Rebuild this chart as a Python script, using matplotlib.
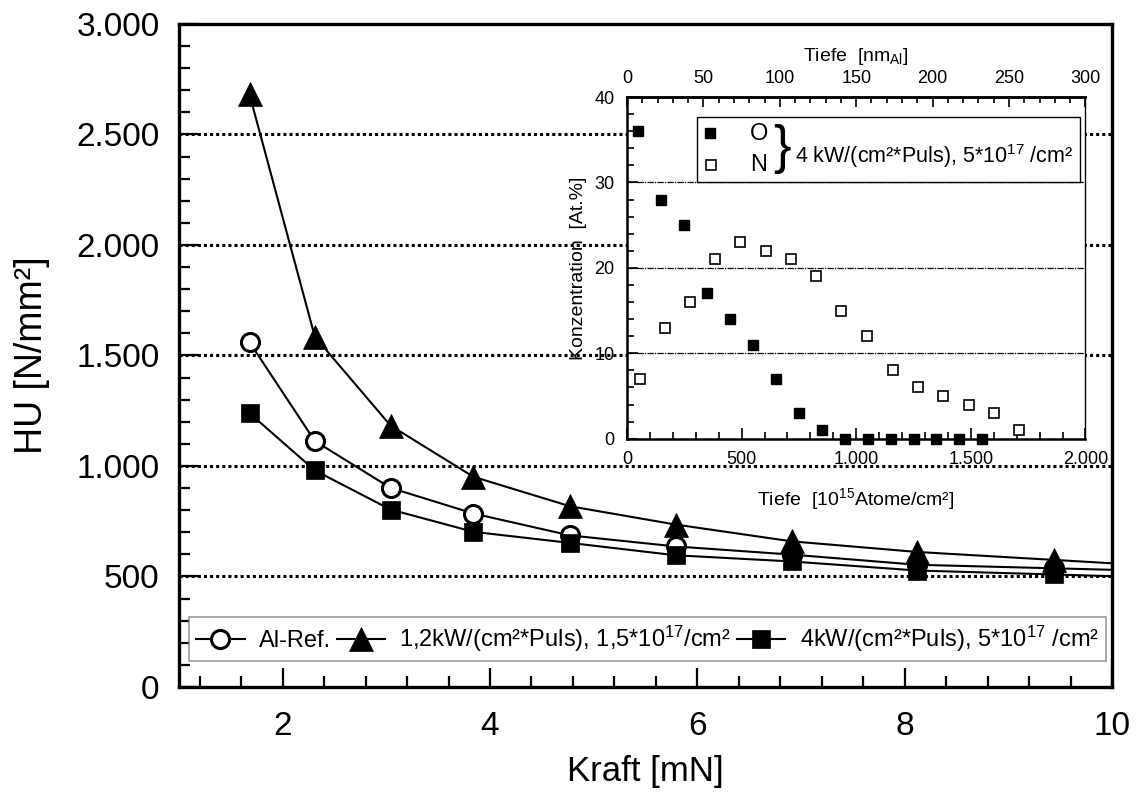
import numpy as np
import matplotlib

matplotlib.use("Agg")
import matplotlib.pyplot as plt
from matplotlib.patches import Rectangle
from matplotlib.ticker import MultipleLocator, FixedLocator, FuncFormatter

plt.rcParams["font.family"] = ["Liberation Sans", "DejaVu Sans"]
plt.rcParams["mathtext.fontset"] = "custom"
plt.rcParams["mathtext.rm"] = "Liberation Sans"
plt.rcParams["mathtext.it"] = "Liberation Sans:italic"

# ---- main chart: universal hardness vs. load ---------------------------------
kraft = [1.68, 2.31, 3.04, 3.84, 4.77, 5.79, 6.91, 8.12, 9.44]
hu_ref = [1560, 1113, 901, 785, 686, 636, 599, 553, 537]
hu_12kw = [2681, 1585, 1183, 951, 818, 735, 659, 611, 575]
hu_4kw = [1239, 980, 803, 702, 652, 596, 568, 527, 509]

labels_main = ["Al-Ref.",
               "1,2kW/(cm²*Puls), 1,5*10$^{17}$/cm²",
               "4kW/(cm²*Puls), 5*10$^{17}$ /cm²"]

# ---- inset: depth profile ----------------------------------------------------
tiefe_o = [50, 150, 250, 350, 450, 550, 650, 750, 850, 950, 1050, 1150,
           1250, 1350, 1450, 1550]
konz_o = [36, 28, 25, 17, 14, 11, 7, 3, 1, 0, 0, 0, 0, 0, 0, 0]
tiefe_n = [55, 165, 275, 385, 495, 605, 715, 825, 935, 1045, 1160, 1270,
           1380, 1490, 1600, 1710]
konz_n = [7, 13, 16, 21, 23, 22, 21, 19, 15, 12, 8, 6, 5, 4, 3, 1]


def dot_fmt(v, _pos):
    return f"{int(round(v)):,}".replace(",", ".")


def line_to_edge(x, y, x_end=10.0):
    # connect the points and carry the last segment on to the axis edge
    slope = (y[-1] - y[-2]) / (x[-1] - x[-2])
    return list(x) + [x_end], list(y) + [y[-1] + slope * (x_end - x[-1])]


fig = plt.figure(figsize=(11.36, 8.05), dpi=100)
ax = fig.add_axes([0.1576, 0.1466, 0.8213, 0.8236])

series = [
    (hu_ref, dict(marker="o", mfc="white", mec="black", ms=13, mew=2.2)),
    (hu_12kw, dict(marker="^", mfc="black", mec="black", ms=17, mew=0.5)),
    (hu_4kw, dict(marker="s", mfc="black", mec="black", ms=13, mew=0.5)),
]
handles = []
for yv, st in series:
    xs, ys = line_to_edge(kraft, yv)
    ax.plot(xs, ys, color="black", lw=1.5, zorder=3)
    ax.plot(kraft, yv, ls="none", zorder=4, **st)
    h, = ax.plot([], [], color="black", lw=1.5, **st)
    handles.append(h)

ax.set_xlim(1, 10)
ax.set_ylim(0, 3000)
ax.xaxis.set_major_locator(MultipleLocator(2))
ax.xaxis.set_minor_locator(MultipleLocator(0.4))
ax.yaxis.set_major_locator(MultipleLocator(500))
ax.yaxis.set_minor_locator(MultipleLocator(100))
ax.yaxis.set_major_formatter(FuncFormatter(dot_fmt))
ax.tick_params(which="both", direction="in", top=False, right=False,
               width=1.6, labelsize=24)
ax.tick_params(which="major", length=14, pad=14)
ax.tick_params(which="minor", length=8)
ax.tick_params(axis="x", which="major", pad=17)
for s in ax.spines.values():
    s.set_linewidth(2.4)
ax.yaxis.grid(True, which="major", color="black", lw=2.2,
              linestyle=(0, (1, 1)))
ax.set_axisbelow(True)
ax.set_xlabel("Kraft [mN]", fontsize=25, labelpad=10)
ax.set_ylabel("HU [N/mm²]", fontsize=27, labelpad=19)

leg = ax.legend(handles, labels_main, ncol=3, loc="lower left",
                bbox_to_anchor=(0.0107, 0.039), fontsize=17, frameon=True,
                fancybox=False, borderaxespad=0, handlelength=2.05,
                handletextpad=0.6, columnspacing=0.25, borderpad=0.3)
leg.get_frame().set_edgecolor("#808080")
leg.get_frame().set_linewidth(1.2)
leg.set_zorder(6)

# ---- inset -------------------------------------------------------------------
ins = fig.add_axes([0.5519, 0.455, 0.4036, 0.4245], zorder=5)
ins.set_facecolor("white")
ins.plot(tiefe_o, konz_o, ls="none", marker="s", ms=7.5, mfc="black",
         mec="black", zorder=4, clip_on=False)
ins.plot(tiefe_n, konz_n, ls="none", marker="s", ms=7.5, mfc="white",
         mec="black", mew=1.2, zorder=4, clip_on=False)
ins.set_xlim(0, 2000)
ins.set_ylim(0, 40)
ins.xaxis.set_major_locator(MultipleLocator(500))
ins.xaxis.set_minor_locator(MultipleLocator(100))
ins.yaxis.set_major_locator(MultipleLocator(10))
ins.yaxis.set_minor_locator(MultipleLocator(2))
ins.xaxis.set_major_formatter(FuncFormatter(dot_fmt))
ins.tick_params(which="both", direction="in", top=False, right=False,
                labelsize=13, width=1.2)
ins.tick_params(which="major", length=8, pad=9)
ins.tick_params(which="minor", length=5)
ins.spines["right"].set_linewidth(1.0)
for k in ["left", "bottom", "top"]:
    ins.spines[k].set_linewidth(1.8)
for yv in [10, 20, 30]:
    ins.axhline(yv, color="black", lw=0.9, ls=(0, (5, 1, 1, 1)), zorder=1)
ins.set_xlabel("Tiefe  [10$^{15}$Atome/cm²]", fontsize=14, labelpad=13)
ins.set_ylabel("Konzentration  [At.%]", fontsize=14, labelpad=5)

top = ins.secondary_xaxis("top", functions=(lambda v: v * 0.15,
                                            lambda v: v / 0.15))
top.xaxis.set_major_locator(FixedLocator([0, 50, 100, 150, 200, 250, 300]))
top.xaxis.set_minor_locator(FixedLocator(list(range(10, 300, 10))))
top.tick_params(which="both", direction="in", labelsize=13, width=1.2)
top.tick_params(which="major", length=7, pad=7)
top.tick_params(which="minor", length=4)
top.spines["top"].set_linewidth(1.8)
top.set_xlabel("Tiefe  [nm$_{\\mathrm{Al}}$]", fontsize=14, labelpad=7)

# inset legend box with brace
ins.add_patch(Rectangle((305, 30.05), 1671, 7.65, fc="white", ec="black",
                        lw=1.0, zorder=3))
ins.plot([362], [35.8], ls="none", marker="s", ms=7.5, mfc="black",
         mec="black", zorder=5)
ins.plot([365], [32.0], ls="none", marker="s", ms=7.5, mfc="white",
         mec="black", mew=1.2, zorder=5)
ins.text(576, 35.7, "O", fontsize=17, ha="center", va="center", zorder=5)
ins.text(576, 32.0, "N", fontsize=17, ha="center", va="center", zorder=5)
ins.text(676, 33.9, "}", fontsize=38, ha="center", va="center", zorder=5)
ins.text(735, 33.1, "4 kW/(cm²*Puls), 5*10$^{17}$ /cm²", fontsize=15.5,
         ha="left", va="center", zorder=5)

fig.savefig("out.png", dpi=100)
